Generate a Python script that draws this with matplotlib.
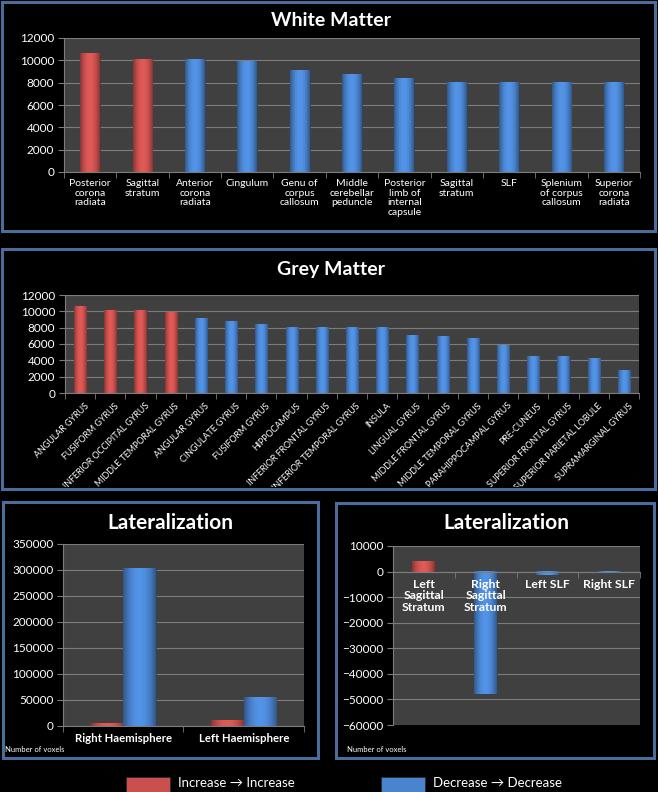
import numpy as np
import matplotlib
matplotlib.use("Agg")
import matplotlib.pyplot as plt
from matplotlib.patches import Rectangle
from matplotlib.colors import to_rgb
from matplotlib.transforms import Bbox, TransformedBbox, ScaledTranslation

plt.rcParams['font.family'] = ['Lato', 'DejaVu Sans']

# colours
RED = "#c9504d"
BLUE = "#4a84cf"
PLOT_BG = "#404040"
GRID = "#7c7c7c"
BORDER = "#4a6d9c"

# white matter
wm_labels = ["Posterior\ncorona\nradiata", "Sagittal\nstratum", "Anterior\ncorona\nradiata",
             "Cingulum", "Genu of\ncorpus\ncallosum", "Middle\ncerebellar\npeduncle",
             "Posterior\nlimb of\ninternal\ncapsule", "Sagittal\nstratum", "SLF",
             "Splenium\nof corpus\ncallosum", "Superior\ncorona\nradiata"]
wm_values = [10600, 10100, 10100, 9900, 9100, 8700, 8400, 8000, 8000, 8000, 8000]
wm_n_increase = 2

# grey matter
gm_labels = ["ANGULAR GYRUS", "FUSIFORM GYRUS", "INFERIOR OCCIPITAL GYRUS", "MIDDLE TEMPORAL GYRUS",
             "ANGULAR GYRUS", "CINGULATE GYRUS", "FUSIFORM GYRUS", "HIPPOCAMPUS",
             "INFERIOR FRONTAL GYRUS", "INFERIOR TEMPORAL GYRUS", "INSULA", "LINGUAL GYRUS",
             "MIDDLE FRONTAL GYRUS", "MIDDLE TEMPORAL GYRUS", "PARAHIPPOCAMPAL GYRUS", "PRE-CUNEUS",
             "SUPERIOR FRONTAL GYRUS", "SUPERIOR PARIETAL LOBULE", "SUPRAMARGINAL GYRUS"]
gm_values = [10600, 10100, 10100, 9900, 9100, 8700, 8400, 8000, 8000, 8000, 8000,
             7100, 6900, 6700, 5800, 4500, 4500, 4200, 2700]
gm_n_increase = 4

# lateralization, hemispheres
hemi_labels = ["Right Haemisphere", "Left Haemisphere"]
hemi_increase = [5000, 10000]
hemi_decrease = [303000, 55000]

# lateralization, tracts
tract_labels = ["Left\nSagittal\nStratum", "Right\nSagittal\nStratum", "Left SLF", "Right SLF"]
tract_values = [4000, -48000, -1500, -500]
tract_is_increase = [True, False, False, False]

W, H = 658, 792
fig = plt.figure(figsize=(W / 100, H / 100), dpi=100)
fig.patch.set_facecolor("black")


def px_axes(x0, y0, x1, y1):
    return fig.add_axes([x0 / W, 1 - y1 / H, (x1 - x0) / W, (y1 - y0) / H])


def px_text(x, y, s, **kw):
    fig.text(x / W, 1 - y / H, s, color="white", **kw)


def panel(x0, y0, x1, y1):
    fig.add_artist(Rectangle((x0 / W, 1 - y1 / H), (x1 - x0) / W, (y1 - y0) / H,
                             transform=fig.transFigure, fill=False,
                             edgecolor=BORDER, linewidth=2.2))


def shade(ax, bars):
    # cylinder-like horizontal gradient, like the old office charts
    t = np.linspace(-1, 1, 40)
    prof = 1.12 - 0.45 * np.abs(t) ** 2
    for b in bars:
        base = np.array(to_rgb(b.get_facecolor()))
        img = np.clip(base[None, None, :] * prof[None, :, None], 0, 1)
        x0, y0, w, h = b.get_x(), b.get_y(), b.get_width(), b.get_height()
        ax.imshow(img, extent=(x0, x0 + w, min(y0, y0 + h), max(y0, y0 + h)),
                  aspect="auto", zorder=b.get_zorder() + 0.1, clip_path=b,
                  interpolation="bilinear")


def style(ax, n, ysize):
    ax.set_facecolor(PLOT_BG)
    ax.grid(axis="y", color=GRID, linewidth=0.8)
    ax.set_axisbelow(True)
    for s in ax.spines.values():
        s.set_visible(False)
    ax.spines["bottom"].set_visible(True)
    ax.spines["bottom"].set_color(GRID)
    ax.spines["left"].set_visible(True)
    ax.spines["left"].set_color(GRID)
    ax.set_xlim(-0.5, n - 0.5)
    ax.set_xticks(np.arange(-0.5, n, 1.0), minor=True)
    ax.tick_params(axis="x", which="major", length=0, colors="white")
    ax.tick_params(axis="x", which="minor", length=4, color=GRID)
    ax.tick_params(axis="y", length=4, color=GRID, labelcolor="white", labelsize=ysize, pad=3)


# ---- White matter ----
panel(2, 2, 655, 231)
px_text(331, 20, "White Matter", ha="center", va="center", fontsize=14, fontweight="bold")
ax1 = px_axes(64, 38, 640, 172)
x = np.arange(len(wm_values))
cols = [RED] * wm_n_increase + [BLUE] * (len(wm_values) - wm_n_increase)
bars = ax1.bar(x, wm_values, width=0.38, color=cols, edgecolor="#2a2a2a", linewidth=0.4)
shade(ax1, bars)
style(ax1, len(wm_values), 8.5)
ax1.set_ylim(0, 12000)
ax1.set_yticks(range(0, 12001, 2000))
ax1.set_xticks(x)
ax1.set_xticklabels(wm_labels, fontsize=7.5, linespacing=1.1, va="top")
ax1.tick_params(axis="x", pad=5)

# ---- Grey matter ----
panel(2, 249, 655, 489)
px_text(331, 270, "Grey Matter", ha="center", va="center", fontsize=14, fontweight="bold")
ax2 = px_axes(65, 295, 639, 393)
x = np.arange(len(gm_values))
cols = [RED] * gm_n_increase + [BLUE] * (len(gm_values) - gm_n_increase)
bars = ax2.bar(x, gm_values, width=0.4, color=cols, edgecolor="#2a2a2a", linewidth=0.4)
shade(ax2, bars)
style(ax2, len(gm_values), 8.5)
ax2.set_ylim(0, 12000)
ax2.set_yticks(range(0, 12001, 2000))
ax2.set_xticks(x)
ax2.set_xticklabels(gm_labels, fontsize=6.4, rotation=45, ha="right", rotation_mode="anchor")
ax2.tick_params(axis="x", pad=6)
clip = TransformedBbox(Bbox([[4 / W, 1 - 487 / H], [653 / W, 1 - 251 / H]]), fig.transFigure)
shift = ScaledTranslation(4 / 100, 0, fig.dpi_scale_trans)
for lbl in ax2.get_xticklabels():
    lbl.set_transform(lbl.get_transform() + shift)
    lbl.set_clip_on(True)
    lbl.set_clip_box(clip)

# ---- Lateralization (hemispheres) ----
panel(3, 502, 318, 758)
px_text(170, 523, "Lateralization", ha="center", va="center", fontsize=15, fontweight="bold")
ax3 = px_axes(63, 544, 304, 726)
x = np.arange(len(hemi_labels))
b1 = ax3.bar(x - 0.135, hemi_increase, width=0.27, color=RED, edgecolor="#2a2a2a", linewidth=0.4)
b2 = ax3.bar(x + 0.135, hemi_decrease, width=0.27, color=BLUE, edgecolor="#2a2a2a", linewidth=0.4)
shade(ax3, list(b1) + list(b2))
style(ax3, len(hemi_labels), 8.5)
ax3.set_ylim(0, 350000)
ax3.set_yticks(range(0, 350001, 50000))
ax3.set_xticks(x)
ax3.set_xticklabels(hemi_labels, fontsize=8.2, fontweight="bold")
ax3.tick_params(axis="x", pad=5)
px_text(5, 750, "Number of voxels", ha="left", va="center", fontsize=5.5)

# ---- Lateralization (tracts) ----
panel(336, 503, 654, 758)
px_text(506, 523, "Lateralization", ha="center", va="center", fontsize=15, fontweight="bold")
ax4 = px_axes(393, 546, 640, 725)
x = np.arange(len(tract_labels))
cols = [RED if inc else BLUE for inc in tract_is_increase]
bars = ax4.bar(x, tract_values, width=0.37, color=cols, edgecolor="#2a2a2a", linewidth=0.4)
shade(ax4, bars)
style(ax4, len(tract_labels), 8.5)
ax4.set_ylim(-60000, 10000)
ax4.set_yticks(range(-60000, 10001, 10000))
ax4.spines["bottom"].set_position(("data", 0))
ax4.set_xticks(x)
ax4.set_xticklabels([])
# labels sit on top of the bars here, so draw them as texts above everything
for xi, lab in zip(x, tract_labels):
    ax4.annotate(lab, (xi, 0), xytext=(0, -5), textcoords="offset points",
                 ha="center", va="top", color="white", fontsize=8.8, fontweight="bold",
                 linespacing=1.1, zorder=10)
px_text(347, 749, "Number of voxels", ha="left", va="center", fontsize=5.5)

# ---- Legend ----
for x0, col, txt in [(126, RED, "Increase \u2192 Increase"), (381, BLUE, "Decrease \u2192 Decrease")]:
    fig.add_artist(Rectangle((x0 / W, 1 - 792 / H), 44 / W, 15 / H, transform=fig.transFigure,
                             facecolor=col, edgecolor="#2a2a2a", linewidth=0.6))
    px_text(x0 + 52, 783, txt, ha="left", va="center", fontsize=9.5)

fig.savefig("out.png", dpi=100, facecolor="black")
